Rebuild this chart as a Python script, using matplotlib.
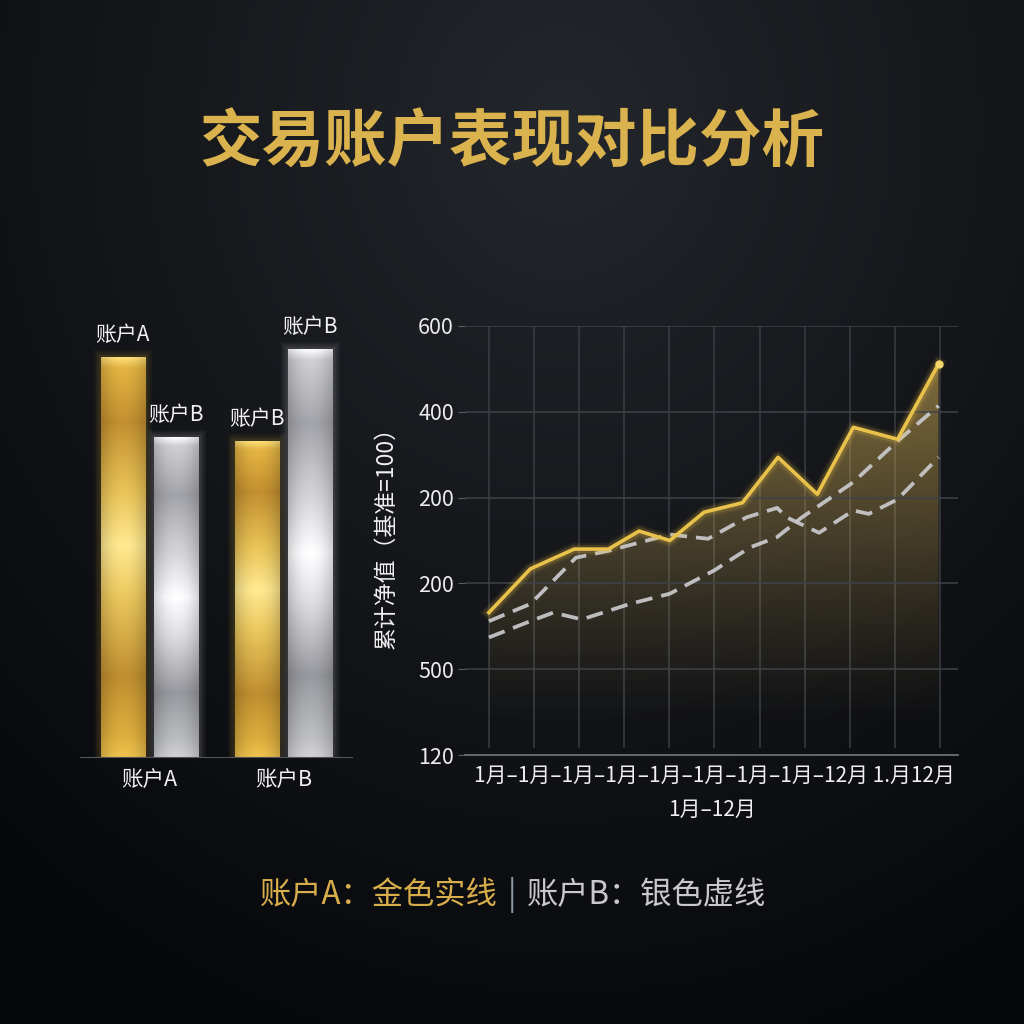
import numpy as np
import matplotlib.pyplot as plt
from matplotlib.colors import LinearSegmentedColormap
from matplotlib.patches import Rectangle

plt.rcParams['font.family'] = ['Noto Sans CJK SC', 'DejaVu Sans']

# ---- data ----
title = '交易账户表现对比分析'
groups = ['账户A', '账户B']
gold_vals = [100, 79]
silver_vals = [80, 102]
gold_tops = ['账户A', '账户B']
silver_tops = ['账户B', '账户B']

# line chart (x = month slot, y = grid step)
a_x = [0, 0.92, 1.89, 2.65, 3.33, 4.01, 4.77, 5.62, 6.41, 7.28, 8.08, 9.06, 9.97]
a_y = [1.66, 2.17, 2.40, 2.40, 2.61, 2.50, 2.83, 2.94, 3.47, 3.04, 3.82, 3.68, 4.56]
b1_x = [0, 0.92, 1.93, 2.65, 4.01, 4.86, 5.71, 6.39, 6.60, 7.32, 8.08, 8.42, 9.06, 9.97]
b1_y = [1.56, 1.76, 2.30, 2.38, 2.57, 2.52, 2.77, 2.88, 2.77, 2.59, 2.85, 2.81, 2.98, 3.47]
b2_x = [0, 0.92, 1.43, 2.06, 3.12, 4.01, 4.99, 5.79, 6.39, 6.94, 7.36, 8.08, 9.06, 9.97]
b2_y = [1.37, 1.56, 1.66, 1.58, 1.76, 1.88, 2.15, 2.42, 2.54, 2.77, 2.92, 3.18, 3.66, 4.07]
ytick_labels = ['120', '500', '200', '200', '400', '600']
xrow = '1月–1月–1月–1月–1月–1月–1月–1月–12月 1.月12月'
xlabel = '1月–12月'
ylabel = '累计净值（基准=100）'
legend_a = '账户A：金色实线'
legend_b = '账户B：银色虚线'

W = H = 1024
fig = plt.figure(figsize=(10.24, 10.24), dpi=100)

# background gradient
bg = fig.add_axes([0, 0, 1, 1], zorder=-10)
yy, xx = np.mgrid[0:1:256j, 0:1:256j]
d = np.sqrt(((xx - 0.55) / 0.85) ** 2 + ((yy - 0.12) / 0.95) ** 2)
t = np.clip(d, 0, 1) ** 0.9
c0 = np.array([0x24, 0x27, 0x2c]) / 255
c1 = np.array([0x07, 0x08, 0x0b]) / 255
bg.imshow(c0 * (1 - t[..., None]) + c1 * t[..., None], extent=[0, 1, 0, 1],
          aspect='auto', origin='upper')
bg.axis('off')


def metal(stops, n=256, m=40, edge=0.18):
    cmap = LinearSegmentedColormap.from_list('m', stops)
    col = cmap(np.linspace(0, 1, n))[:, :3]
    h = np.linspace(-1, 1, m)
    hf = 1.04 - edge * h ** 2
    return np.clip(col[:, None, :] * hf[None, :, None], 0, 1)


gold_stops = [(0.0, '#f6d874'), (0.025, '#dcae40'), (0.16, '#bb8a2e'), (0.34, '#e2bd55'),
              (0.47, '#f6e18c'), (0.6, '#e3c05a'), (0.8, '#b8892e'), (0.95, '#d6a93c'),
              (1.0, '#e6bb4a')]
silver_stops = [(0.0, '#f4f4f8'), (0.025, '#c8c8cc'), (0.18, '#9d9ea3'), (0.38, '#d2d2d6'),
                (0.5, '#f6f6f8'), (0.62, '#d6d6da'), (0.8, '#929398'), (0.95, '#b6b7bb'),
                (1.0, '#cacace')]

# ---- bar panel ----
ax1 = fig.add_axes([80 / W, 1 - 757 / H, 272 / W, 457 / H])
ax1.set_facecolor('none')
xg = np.arange(len(groups))
bw = 0.33
gold_bars = ax1.bar(xg - 0.2, gold_vals, bw, color='none', lw=0)
silver_bars = ax1.bar(xg + 0.2, silver_vals, bw, color='none', lw=0)

for bars, stops, glow, tops in [(gold_bars, gold_stops, '#f5c542', gold_tops),
                                (silver_bars, silver_stops, '#f0f0f8', silver_tops)]:
    img = metal(stops)
    for rect, lab in zip(bars, tops):
        x0, w, h = rect.get_x(), rect.get_width(), rect.get_height()
        for p in [7, 5, 3.5, 2]:
            dx, dy = p / 134, p / 4
            ax1.add_patch(Rectangle((x0 - dx, 0), w + 2 * dx, h + dy, color=glow,
                                    alpha=0.045, lw=0, zorder=1))
        im = ax1.imshow(img, extent=[x0, x0 + w, 0, h], origin='upper',
                        aspect='auto', zorder=2)
        im.set_clip_path(rect)
        ax1.add_patch(rect)
        rect.set_visible(False)
        ax1.annotate(lab, (x0 + w / 2, h), xytext=(0, 8), textcoords='offset points',
                     ha='center', va='bottom', fontsize=15, color='#f2f2f2', zorder=3)

ax1.set_xlim(-0.52, 1.51)
ax1.set_ylim(0, 114.25)
for s in ['top', 'right', 'left']:
    ax1.spines[s].set_visible(False)
ax1.spines['bottom'].set_color('#50555c')
ax1.set_yticks([])
ax1.set_xticks(xg)
ax1.set_xticklabels(groups, fontsize=15.5, color='#f0f0f0')
ax1.tick_params(axis='x', length=0, pad=9)

# ---- line panel ----
ax2 = fig.add_axes([465 / W, 1 - 755 / H, 493 / W, 429 / H])
ax2.set_facecolor('none')
xl = (-0.53, 10.4)

ax2.vlines(np.arange(11), 0.08, 5, color='#3a3d43', lw=1.1, zorder=0)
ax2.set_yticks(np.arange(6))
ax2.set_yticklabels(ytick_labels, fontsize=15.5, color='#ececec')
ax2.grid(axis='y', color='#3f4248', lw=1.1, zorder=0)
ax2.tick_params(axis='y', length=5, color='#5a5d62', pad=3)
ax2.set_xticks([])
for s in ['top', 'right', 'left']:
    ax2.spines[s].set_visible(False)
ax2.spines['bottom'].set_color('#6a6d72')
ax2.spines['bottom'].set_linewidth(1.3)

# gold area fill with vertical gradient
poly = ax2.fill_between(a_x, a_y, 0, color='none', lw=0)
gy = np.linspace(0, 5, 256)
alpha = np.clip((gy - 0.3) / (4.6 - 0.3), 0, 1) ** 1.2 * 0.58
grad = np.zeros((256, 1, 4))
grad[..., 0], grad[..., 1], grad[..., 2] = 0.82, 0.68, 0.34
grad[:, 0, 3] = alpha
fim = ax2.imshow(grad, extent=[xl[0], xl[1], 0, 5], origin='lower', aspect='auto', zorder=1)
fim.set_clip_path(poly.get_paths()[0], ax2.transData)

for bx, by in [(b1_x, b1_y), (b2_x, b2_y)]:
    ax2.plot(bx, by, color='#cdcdd1', lw=2.7, dashes=(4.5, 2.4), alpha=0.9, zorder=3,
             dash_capstyle='butt')

for lw, al in [(9, 0.08), (6, 0.15)]:
    ax2.plot(a_x, a_y, color='#f0c040', lw=lw, alpha=al, zorder=4, solid_joinstyle='round')
ax2.plot(a_x, a_y, color='#e9c24c', lw=2.6, zorder=5, solid_joinstyle='round')
ax2.plot(a_x[-1], a_y[-1], 'o', ms=5, color='#f5d468', zorder=6)

ax2.set_xlim(*xl)
ax2.set_ylim(0, 5)

ax2.text(0.505, -0.049, xrow, transform=ax2.transAxes, ha='center', va='center',
         fontsize=15, color='#f0f0f0')
ax2.text(0.50, -0.128, xlabel, transform=ax2.transAxes, ha='center', va='center',
         fontsize=15, color='#f0f0f0')
ax2.text(-0.16, 0.52, ylabel, transform=ax2.transAxes, ha='center', va='center',
         rotation=90, fontsize=16.5, color='#f0f0f0')

# ---- title and legend ----
fig.text(0.5, 1 - 143 / H, title, ha='center', va='center', fontsize=45,
         fontweight='bold', color='#dbb34e')
ly = 1 - 895 / H
fig.text(498 / W, ly, legend_a, ha='right', va='center', fontsize=22.5, color='#d8ae4c')
fig.text(512 / W, ly, '|', ha='center', va='center', fontsize=22.5, color='#8c97a3')
fig.text(527 / W, ly, legend_b, ha='left', va='center', fontsize=22.5, color='#c9c9cc')

fig.savefig('out.png', dpi=100)
